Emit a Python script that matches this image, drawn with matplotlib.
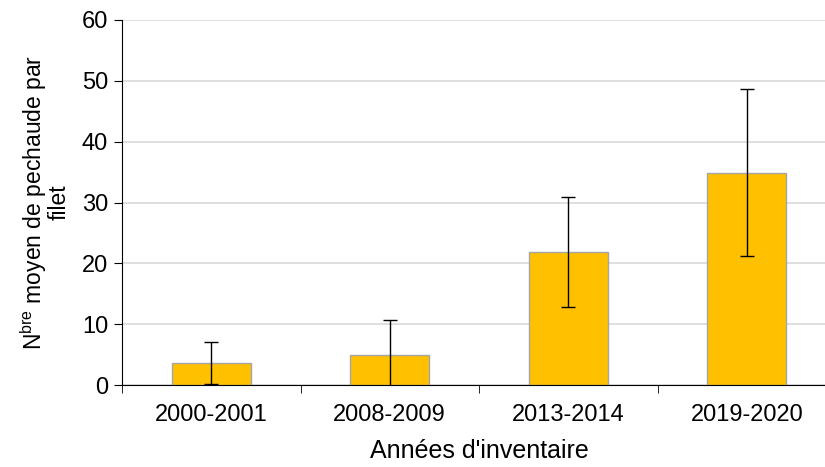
import numpy as np
import matplotlib
matplotlib.use("Agg")
import matplotlib.pyplot as plt

plt.rcParams['font.family'] = ['Liberation Sans', 'DejaVu Sans']

periods = ["2000-2001", "2008-2009", "2013-2014", "2019-2020"]
means = [3.6, 4.9, 21.9, 34.9]
errors = [3.4, 5.8, 9.0, 13.7]

fig = plt.figure(figsize=(8.25, 4.67), dpi=100)
ax = fig.add_axes([122 / 825, (467 - 385) / 467, 714 / 825, 365 / 467])

x = np.arange(len(periods))
ax.bar(x, means, width=0.44, color="#FFC000", edgecolor="#A5A5A5", linewidth=1, zorder=2)
ax.errorbar(x, means, yerr=errors, fmt="none", ecolor="black", elinewidth=1,
            capsize=5, capthick=1, zorder=3)

ax.set_xlim(-0.5, len(periods) - 0.5)
ax.set_ylim(0, 60)
ax.set_yticks(range(0, 61, 10))
ax.yaxis.grid(True, color="#D9D9D9", linewidth=1.2, zorder=0)
ax.set_axisbelow(True)

ax.set_xticks(x)
ax.set_xticklabels(periods)
ax.set_xticks(np.arange(-0.5, len(periods), 1), minor=True)
ax.tick_params(axis="x", which="major", length=0, pad=14, labelsize=17)
ax.tick_params(axis="x", which="minor", length=6, direction="out", color="black")
ax.tick_params(axis="y", length=6, direction="out", labelsize=17, pad=4)

for s in ["top", "right"]:
    ax.spines[s].set_visible(False)
ax.spines["left"].set_color("black")
ax.spines["bottom"].set_color("black")

ax.set_xlabel("Années d'inventaire", fontsize=18, labelpad=9)
ax.set_ylabel("N$^{\\mathregular{bre}}$ moyen de pechaude par\nfilet", fontsize=16.5,
              linespacing=0.95, labelpad=8)

fig.savefig("out.png", dpi=100)
